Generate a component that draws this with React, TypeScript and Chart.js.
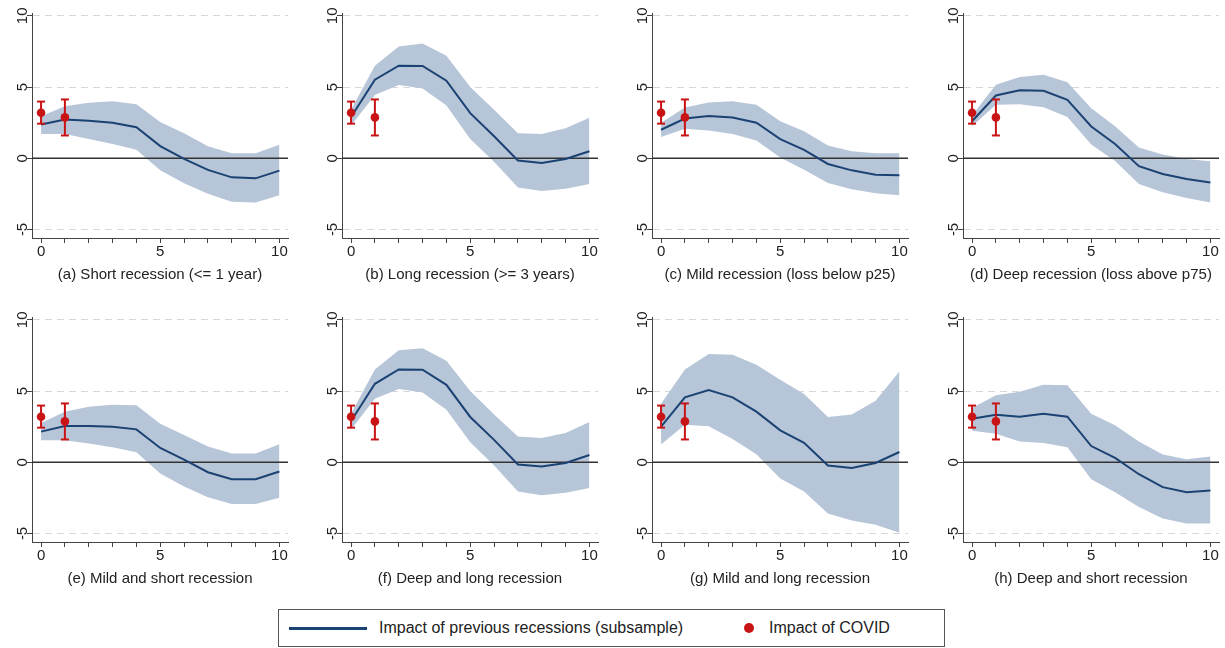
import React, { useEffect, useRef } from "react";
import { Chart, registerables } from "chart.js";

Chart.register(...registerables);

// ---------- data ----------
const horizons = [0, 1, 2, 3, 4, 5, 6, 7, 8, 9, 10];
const xLabelValues = [0, 5, 10];
const yTickValues = [-5, 0, 5, 10];
const X_MIN = -0.38;
const X_MAX = 10.36;
const Y_MIN = -5.6;
const Y_MAX = 10.2;

const covidX = [0, 1];
const covidValue = [3.2, 2.87];
const covidLow = [2.43, 1.6];
const covidHigh = [3.98, 4.13];

const shortLine = [2.37, 2.72, 2.63, 2.49, 2.18, 0.85, -0.05, -0.82, -1.34, -1.41, -0.87];
const shortUpper = [2.95, 3.65, 3.9, 4.0, 3.8, 2.55, 1.75, 0.85, 0.35, 0.35, 0.95];
const shortLower = [1.7, 1.7, 1.35, 1.0, 0.6, -0.85, -1.75, -2.5, -3.05, -3.1, -2.6];

const longLine = [2.9, 5.52, 6.5, 6.48, 5.45, 3.17, 1.55, -0.16, -0.33, -0.05, 0.49];
const longUpper = [3.4, 6.5, 7.85, 8.05, 7.2, 5.0, 3.4, 1.75, 1.7, 2.1, 2.85];
const longLower = [2.3, 4.45, 5.15, 4.9, 3.7, 1.35, -0.25, -2.05, -2.3, -2.15, -1.8];

const mildLine = [2.0, 2.79, 2.96, 2.86, 2.49, 1.34, 0.59, -0.4, -0.85, -1.15, -1.2];
const mildUpper = [2.5, 3.57, 3.92, 4.01, 3.76, 2.6, 1.9, 0.9, 0.5, 0.35, 0.35];
const mildLower = [1.5, 2.07, 1.95, 1.71, 1.24, 0.05, -0.8, -1.74, -2.18, -2.46, -2.6];

const deepLine = [2.6, 4.41, 4.77, 4.74, 4.1, 2.23, 1.0, -0.56, -1.1, -1.46, -1.71];
const deepUpper = [3.0, 5.16, 5.7, 5.87, 5.33, 3.52, 2.25, 0.75, 0.26, -0.05, -0.21];
const deepLower = [2.25, 3.76, 3.8, 3.59, 2.89, 0.96, -0.19, -1.81, -2.39, -2.79, -3.1];

const mildShortLine = [2.15, 2.55, 2.55, 2.5, 2.31, 1.0, 0.19, -0.7, -1.19, -1.19, -0.65];
const mildShortUpper = [2.76, 3.55, 3.9, 4.04, 4.0, 2.71, 1.92, 1.1, 0.61, 0.61, 1.26];
const mildShortLower = [1.54, 1.54, 1.31, 1.05, 0.7, -0.79, -1.71, -2.45, -2.94, -2.94, -2.5];

const deepLongLine = [2.9, 5.51, 6.52, 6.5, 5.44, 3.18, 1.57, -0.16, -0.3, -0.05, 0.51];
const deepLongUpper = [3.4, 6.52, 7.87, 8.0, 7.13, 5.0, 3.36, 1.8, 1.7, 2.06, 2.83];
const deepLongLower = [2.3, 4.46, 5.14, 4.9, 3.69, 1.4, -0.23, -2.06, -2.31, -2.15, -1.8];

const mildLongLine = [2.5, 4.56, 5.07, 4.56, 3.55, 2.24, 1.36, -0.23, -0.4, -0.05, 0.72];
const mildLongUpper = [4.1, 6.52, 7.6, 7.55, 6.85, 5.8, 4.79, 3.18, 3.36, 4.32, 6.38];
const mildLongLower = [1.24, 2.64, 2.52, 1.64, 0.56, -1.14, -2.06, -3.6, -4.09, -4.39, -4.95];

const deepShortLine = [3.06, 3.34, 3.2, 3.41, 3.2, 1.14, 0.3, -0.84, -1.75, -2.1, -1.99];
const deepShortUpper = [3.81, 4.7, 4.95, 5.44, 5.4, 3.41, 2.59, 1.45, 0.54, 0.21, 0.4];
const deepShortLower = [2.22, 2.01, 1.45, 1.36, 1.05, -1.19, -2.1, -3.15, -3.95, -4.3, -4.3];

const panelTitles = [
  "(a) Short recession (<= 1 year)",
  "(b) Long recession (>= 3 years)",
  "(c) Mild recession (loss below p25)",
  "(d) Deep recession (loss above p75)",
  "(e) Mild and short recession",
  "(f) Deep and long recession",
  "(g) Mild and long recession",
  "(h) Deep and short recession",
];

const panelLines = [shortLine, longLine, mildLine, deepLine, mildShortLine, deepLongLine, mildLongLine, deepShortLine];
const panelUppers = [shortUpper, longUpper, mildUpper, deepUpper, mildShortUpper, deepLongUpper, mildLongUpper, deepShortUpper];
const panelLowers = [shortLower, longLower, mildLower, deepLower, mildShortLower, deepLongLower, mildLongLower, deepShortLower];

const legendLineLabel = "Impact of previous recessions (subsample)";
const legendDotLabel = "Impact of COVID";

// ---------- style ----------
const FONT = '"Liberation Sans", Arial, Helvetica, sans-serif';
const NAVY = "#1a4272";
const BAND = "rgb(183,197,216)";
const RED = "#c81414";
const AXIS = "#444444";
const TEXT = "#222222";

const CANVAS_W = 296;
const CANVAS_H = 283;
const Y_AXIS_W = 30;
const X_AXIS_H = 46;
const PAD_TOP = 10;
const PAD_RIGHT = 10;
const PAD_BOTTOM = 2;

const colLefts = [2, 312, 622, 933];
const rowTops = [3, 307];

const yLabelPlugin = {
  id: "yRotatedLabels",
  afterDraw(chart: any) {
    const ys = chart.scales.y;
    const ctx = chart.ctx;
    ctx.save();
    ctx.font = `15px ${FONT}`;
    ctx.fillStyle = TEXT;
    ctx.textAlign = "center";
    ctx.textBaseline = "middle";
    for (const v of yTickValues) {
      const py = ys.getPixelForValue(v);
      ctx.save();
      ctx.translate(chart.chartArea.left - 9, py);
      ctx.rotate(-Math.PI / 2);
      ctx.fillText(String(v), 0, 0);
      ctx.restore();
    }
    ctx.restore();
  },
};

function buildConfig(idx: number): any {
  const line = panelLines[idx];
  const upper = panelUppers[idx];
  const lower = panelLowers[idx];
  const pts = (arr: number[]) => horizons.map((h, i) => ({ x: h, y: arr[i] }));

  const datasets: any[] = [
    {
      type: "line",
      data: pts(upper),
      borderWidth: 0,
      pointRadius: 0,
      fill: 1,
      backgroundColor: BAND,
      borderColor: BAND,
      order: 5,
    },
    {
      type: "line",
      data: pts(lower),
      borderWidth: 0,
      pointRadius: 0,
      fill: false,
      borderColor: BAND,
      order: 4,
    },
    {
      type: "line",
      data: [
        { x: X_MIN, y: 0 },
        { x: X_MAX, y: 0 },
      ],
      borderColor: "#333333",
      borderWidth: 1.5,
      pointRadius: 0,
      fill: false,
      order: 3,
    },
    {
      type: "line",
      data: pts(line),
      borderColor: NAVY,
      borderWidth: 2,
      pointRadius: 0,
      fill: false,
      tension: 0,
      order: 2,
    },
    ...covidX.map((cx, i) => ({
      type: "line",
      data: [
        { x: cx, y: covidLow[i] },
        { x: cx, y: covidHigh[i] },
      ],
      borderColor: RED,
      borderWidth: 2,
      pointRadius: 0,
      fill: false,
      order: 1,
    })),
    {
      type: "scatter",
      data: [
        ...covidX.map((cx, i) => ({ x: cx, y: covidLow[i] })),
        ...covidX.map((cx, i) => ({ x: cx, y: covidHigh[i] })),
      ],
      pointStyle: "line",
      pointRadius: 4,
      borderColor: RED,
      borderWidth: 2,
      order: 1,
    },
    {
      type: "scatter",
      data: covidX.map((cx, i) => ({ x: cx, y: covidValue[i] })),
      pointStyle: "circle",
      pointRadius: 4.3,
      backgroundColor: RED,
      borderColor: RED,
      borderWidth: 0,
      order: 0,
    },
  ];

  return {
    type: "line",
    data: { datasets },
    options: {
      responsive: false,
      animation: false,
      events: [],
      layout: { padding: { top: PAD_TOP, right: PAD_RIGHT, bottom: PAD_BOTTOM, left: 0 } },
      plugins: { legend: { display: false }, tooltip: { enabled: false } },
      scales: {
        x: {
          type: "linear",
          min: X_MIN,
          max: X_MAX,
          afterBuildTicks: (s: any) => {
            s.ticks = horizons.map((v) => ({ value: v }));
          },
          afterFit: (s: any) => {
            s.height = X_AXIS_H;
          },
          ticks: {
            autoSkip: false,
            maxRotation: 0,
            minRotation: 0,
            padding: 0,
            color: TEXT,
            font: { family: FONT, size: 15 },
            callback: (v: any) => (xLabelValues.includes(Number(v)) ? String(v) : ""),
          },
          grid: {
            drawOnChartArea: false,
            drawTicks: true,
            tickLength: 5,
            tickColor: AXIS,
            tickWidth: 1,
          },
          border: { display: true, color: AXIS, width: 1 },
          title: {
            display: true,
            text: panelTitles[idx],
            color: TEXT,
            font: { family: FONT, size: 15 },
            padding: { top: 0, bottom: 0 },
          },
        },
        y: {
          type: "linear",
          min: Y_MIN,
          max: Y_MAX,
          afterBuildTicks: (s: any) => {
            s.ticks = yTickValues.map((v) => ({ value: v }));
          },
          afterFit: (s: any) => {
            s.width = Y_AXIS_W;
          },
          ticks: { display: false },
          grid: {
            drawOnChartArea: true,
            drawTicks: true,
            tickLength: 5,
            tickColor: AXIS,
            tickWidth: 1,
            tickBorderDash: [],
            lineWidth: 1,
            color: (c: any) => (c.tick && c.tick.value === 0 ? "rgba(0,0,0,0)" : "#d8d8d8"),
          },
          border: { display: true, color: AXIS, width: 1, dash: [7, 5] },
        },
      },
    },
    plugins: [yLabelPlugin],
  };
}

function Panel({ idx }: { idx: number }) {
  const ref = useRef<HTMLCanvasElement>(null);
  useEffect(() => {
    const chart = new Chart(ref.current as HTMLCanvasElement, buildConfig(idx));
    return () => chart.destroy();
  }, [idx]);
  const left = colLefts[idx % 4];
  const top = rowTops[Math.floor(idx / 4)];
  return (
    <canvas
      ref={ref}
      width={CANVAS_W}
      height={CANVAS_H}
      style={{ position: "absolute", left, top, width: CANVAS_W, height: CANVAS_H, display: "block" }}
    />
  );
}

export default function App() {
  return (
    <div
      style={{
        position: "absolute",
        left: 0,
        top: 0,
        width: 1225,
        height: 648,
        background: "#ffffff",
        overflow: "hidden",
        fontFamily: FONT,
      }}
    >
      {panelTitles.map((_, i) => (
        <Panel key={i} idx={i} />
      ))}
      <div
        style={{
          position: "absolute",
          left: 278,
          top: 609,
          width: 667,
          height: 38,
          border: "1px solid #555",
          boxSizing: "border-box",
        }}
      >
        <div style={{ position: "absolute", left: 10, top: 17, width: 78, height: 2.5, background: NAVY }} />
        <div
          style={{
            position: "absolute",
            left: 100,
            top: 0,
            height: 36,
            lineHeight: "36px",
            fontSize: 16,
            color: TEXT,
            whiteSpace: "nowrap",
          }}
        >
          {legendLineLabel}
        </div>
        <div
          style={{
            position: "absolute",
            left: 465,
            top: 13,
            width: 10,
            height: 10,
            borderRadius: "50%",
            background: RED,
          }}
        />
        <div
          style={{
            position: "absolute",
            left: 490,
            top: 0,
            height: 36,
            lineHeight: "36px",
            fontSize: 16,
            color: TEXT,
            whiteSpace: "nowrap",
          }}
        >
          {legendDotLabel}
        </div>
      </div>
    </div>
  );
}
